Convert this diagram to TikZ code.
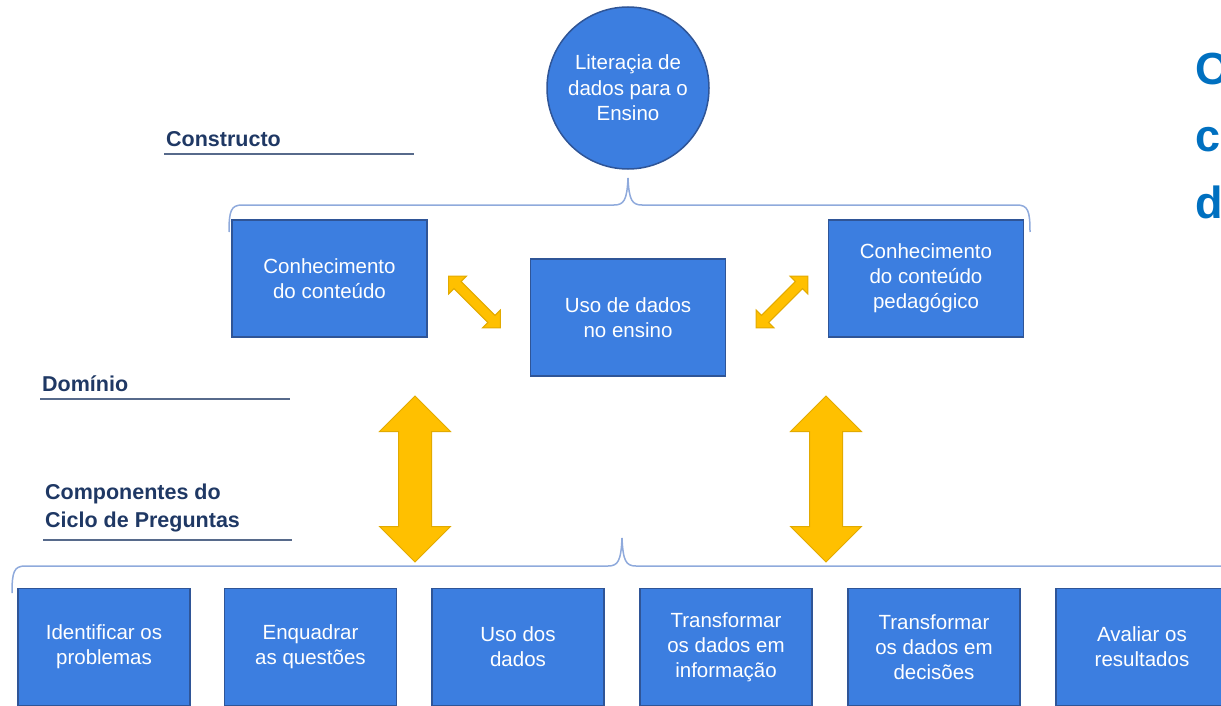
\documentclass[tikz,border=0pt]{standalone}
\usepackage{fontspec}
\setmainfont{Liberation Sans}
\usetikzlibrary{shapes.arrows,positioning}
\definecolor{boxblue}{HTML}{3C7EE0}
\definecolor{boxedge}{HTML}{2F5597}
\definecolor{gold}{HTML}{FFC000}
\definecolor{goldedge}{HTML}{E2AA00}
\definecolor{navy}{HTML}{1F3864}
\definecolor{bracecol}{HTML}{8FAADC}
\definecolor{titleblue}{HTML}{0070C0}

\begin{document}
\begin{tikzpicture}[x=1pt,y=-1pt,
  blk/.style={rectangle,draw=boxedge,line width=1.5pt,fill=boxblue,text=white,align=center,
    font=\fontsize{20.5}{25}\selectfont,inner sep=0pt},
  topblk/.style={blk,minimum width=195pt,minimum height=117pt},
  cycblk/.style={blk,minimum width=172pt,minimum height=117pt},
  head/.style={text=navy,font=\bfseries\fontsize{21.5}{28}\selectfont,inner sep=0pt,align=left},
  rule/.style={draw=navy!75,line width=1.2pt},
  brace/.style={draw=bracecol,line width=1.5pt},
  titletext/.style={text=titleblue,font=\bfseries\fontsize{45}{56}\selectfont,anchor=base west,inner sep=0pt},
  fat/.style={double arrow,fill=gold,draw=goldedge,line width=1pt,double arrow head indent=0pt}]
\useasboundingbox (0,0) rectangle (1221,706);
\clip (0,0) rectangle (1221,706);
% \draw[help lines] (0,0) grid[step=50] (1221,706);
\node (lit) [circle,fill=boxblue,draw=boxedge,line width=1.5pt,minimum size=162pt,inner sep=0pt,
  text=white,align=center,font=\fontsize{20.5}{25.5}\selectfont] at (628,88) {Literaçia de\\dados para o\\Ensino};
%
\node (constructo) [head,anchor=base west] at (166,147) {Constructo};
\node (dominio) [head,anchor=base west] at (42,391) {Domínio};
\node (componentes) [head,anchor=north west] at (45,484) {Componentes do\\Ciclo de Preguntas};
\draw[rule] (164,154) -- (414,154);
\draw[rule] (40,399) -- (290,399);
\draw[rule] (43,540) -- (292,540);
%
\node (titulo1) [titletext] at (1195,85) {O};
\node (titulo2) [titletext] at (1195,152) {co};
\node (titulo3) [titletext] at (1195,218) {d};
%
\draw[brace] (229,232) .. controls (229,211) and (231,205) .. (242,205) -- (614,205)
  .. controls (624,205) and (627,200) .. (628,178) .. controls (629,200) and (632,205) .. (642,205)
  -- (1017,205) .. controls (1028,205) and (1030,211) .. (1030,232);
\draw[brace] (12,593) .. controls (12,572) and (14,566) .. (25,566) -- (608,566)
  .. controls (618,566) and (621,561) .. (622,538) .. controls (623,561) and (626,566) .. (636,566)
  -- (1221,566);
%
\node (conteudo) [topblk] at (329.5,278.5) {Conhecimento\\do conteúdo};
\node (uso) [topblk] at (628,317.5) {Uso de dados\\no ensino};
\node (pedagogico) [topblk] at (926,278.5) {Conhecimento\\do conteúdo\\pedagógico};
%
\node (a1) [fat,minimum height=73pt,inner sep=4.5pt,double arrow head extend=7.5pt,rotate=-45] at (474.5,302) {};
\node (a2) [fat,minimum height=73pt,inner sep=4.5pt,double arrow head extend=7.5pt,rotate=45] at (782,302) {};
\node (a3) [fat,minimum height=166pt,inner sep=16pt,double arrow head extend=19pt,rotate=90] at (415,479) {};
\node (a4) [fat,minimum height=166pt,inner sep=16pt,double arrow head extend=19pt,rotate=90] at (826,479) {};
%
\node (c1) [cycblk] at (104,647) {Identificar os\\problemas};
\node (c2) [cycblk] at (310.5,647) {Enquadrar\\as questões};
\node (c3) [cycblk] at (518,647) {Uso dos\\dados};
\node (c4) [cycblk] at (726,647) {Transformar\\os dados em\\informação};
\node (c5) [cycblk] at (934,647) {Transformar\\os dados em\\decisões};
\node (c6) [cycblk] at (1142,647) {Avaliar os\\resultados};
\end{tikzpicture}
\end{document}
